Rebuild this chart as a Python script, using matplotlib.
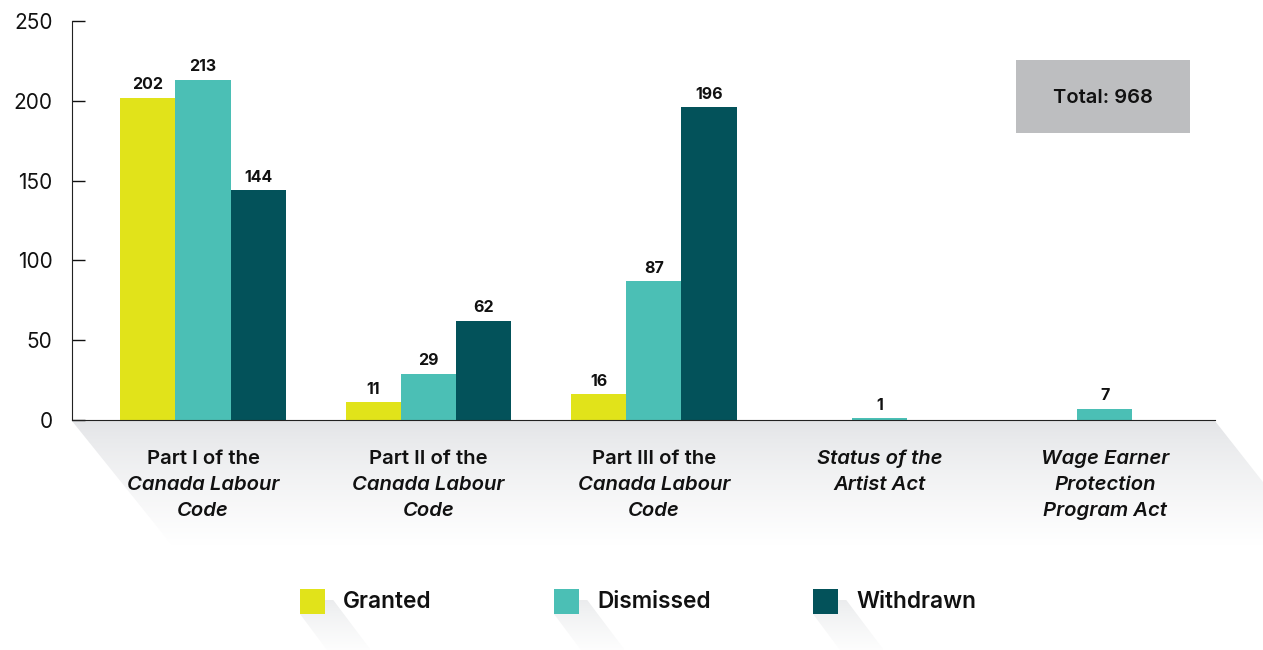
import numpy as np
import matplotlib.pyplot as plt
from matplotlib.patches import Polygon, Rectangle

categories = [
    [("Part I of the", False), ("Canada Labour", True), ("Code", True)],
    [("Part II of the", False), ("Canada Labour", True), ("Code", True)],
    [("Part III of the", False), ("Canada Labour", True), ("Code", True)],
    [("Status of the", True), ("Artist Act", True)],
    [("Wage Earner", True), ("Protection", True), ("Program Act", True)],
]
granted = [202, 11, 16, 0, 0]
dismissed = [213, 29, 87, 1, 7]
withdrawn = [144, 62, 196, 0, 0]
series_names = ["Granted", "Dismissed", "Withdrawn"]
colors = ["#e1e31a", "#4bbfb5", "#03525a"]
total_label = "Total: 968"
yticks = [0, 50, 100, 150, 200, 250]

W, H = 1263, 650
plt.rcParams['font.family'] = ['Inter', 'DejaVu Sans']

fig = plt.figure(figsize=(W / 100, H / 100), dpi=100)

# background layer in pixel units for the soft shadows
bg = fig.add_axes([0, 0, 1, 1], zorder=0)
bg.set_xlim(0, W)
bg.set_ylim(H, 0)
bg.axis('off')

def fade_shadow(pts, y0, y1, c0=(0.89, 0.895, 0.905), x0=0, x1=W):
    poly = Polygon(pts, closed=True, facecolor='none', edgecolor='none')
    bg.add_patch(poly)
    grad = np.linspace(0, 1, 256)[:, None]
    img = np.ones((256, 1, 3))
    for k in range(3):
        img[:, 0, k] = c0[k] + (1 - c0[k]) * grad[:, 0] ** 0.8
    im = bg.imshow(img, extent=[x0, x1, y1, y0], aspect='auto',
                   interpolation='bilinear', zorder=0)
    im.set_clip_path(poly)

# shadow under the baseline
fade_shadow([(72, 421), (1215, 421), (1340, 580), (200, 580)], 421, 545)

# main axes
ax = fig.add_axes([72 / W, 230 / H, 1143 / W, 399 / H], zorder=2)
ax.patch.set_alpha(0)

x = np.arange(len(categories)) * 1.0
bw = 0.244
for i, (vals, c) in enumerate(zip([granted, dismissed, withdrawn], colors)):
    pos = x + (i - 1) * bw
    ax.bar(pos, vals, width=bw, color=c, zorder=2)
    for p, v in zip(pos, vals):
        if v > 0:
            ax.text(p, v + 3.5, str(v), ha='center', va='bottom',
                    fontsize=11.5, fontweight='bold', color='#111111')

ax.set_xlim(-0.581, 4.488)
ax.set_ylim(0, 250)
ax.set_yticks(yticks)
ax.tick_params(axis='y', direction='in', length=9, width=1, pad=14,
               labelsize=15, colors='#111111')
ax.set_xticks([])
for s in ['top', 'right']:
    ax.spines[s].set_visible(False)
ax.spines['left'].set_color('#222222')
ax.spines['bottom'].set_color('#222222')

# category labels, mixed roman and italic lines
for xi, lines in zip(x, categories):
    for j, (txt, ital) in enumerate(lines):
        ax.text(xi, -24.5 - j * 16.3, txt, ha='center', va='center',
                fontsize=14.6, fontweight='semibold',
                fontstyle='italic' if ital else 'normal', color='#111111',
                clip_on=False)

# total box
ax.add_patch(Rectangle((0.826, 0.719), 0.152, 0.183, transform=ax.transAxes,
                       facecolor='#bdbec0', edgecolor='none', zorder=3))
ax.text(0.902, 0.806, total_label, transform=ax.transAxes, ha='center',
        va='center', fontsize=14.5, fontweight='semibold', color='#111111',
        zorder=4)

# legend with diagonal shadows
for lx, name, c in zip([300, 554, 813], series_names, colors):
    sz = 25
    fade_shadow([(lx, 589 + sz), (lx + sz, 589), (lx + sz + 45, 589 + 60),
                 (lx + 45, 589 + sz + 60)], 600, 655, x0=lx, x1=lx + 120,
                c0=(0.92, 0.925, 0.93))
    bg.add_patch(Rectangle((lx, 589), sz, sz, facecolor=c, edgecolor='none',
                           zorder=3))
    bg.text(lx + 43, 602, name, ha='left', va='center', fontsize=16.3,
            fontweight='semibold', color='#111111', zorder=4)

fig.savefig("out.png", dpi=100)
